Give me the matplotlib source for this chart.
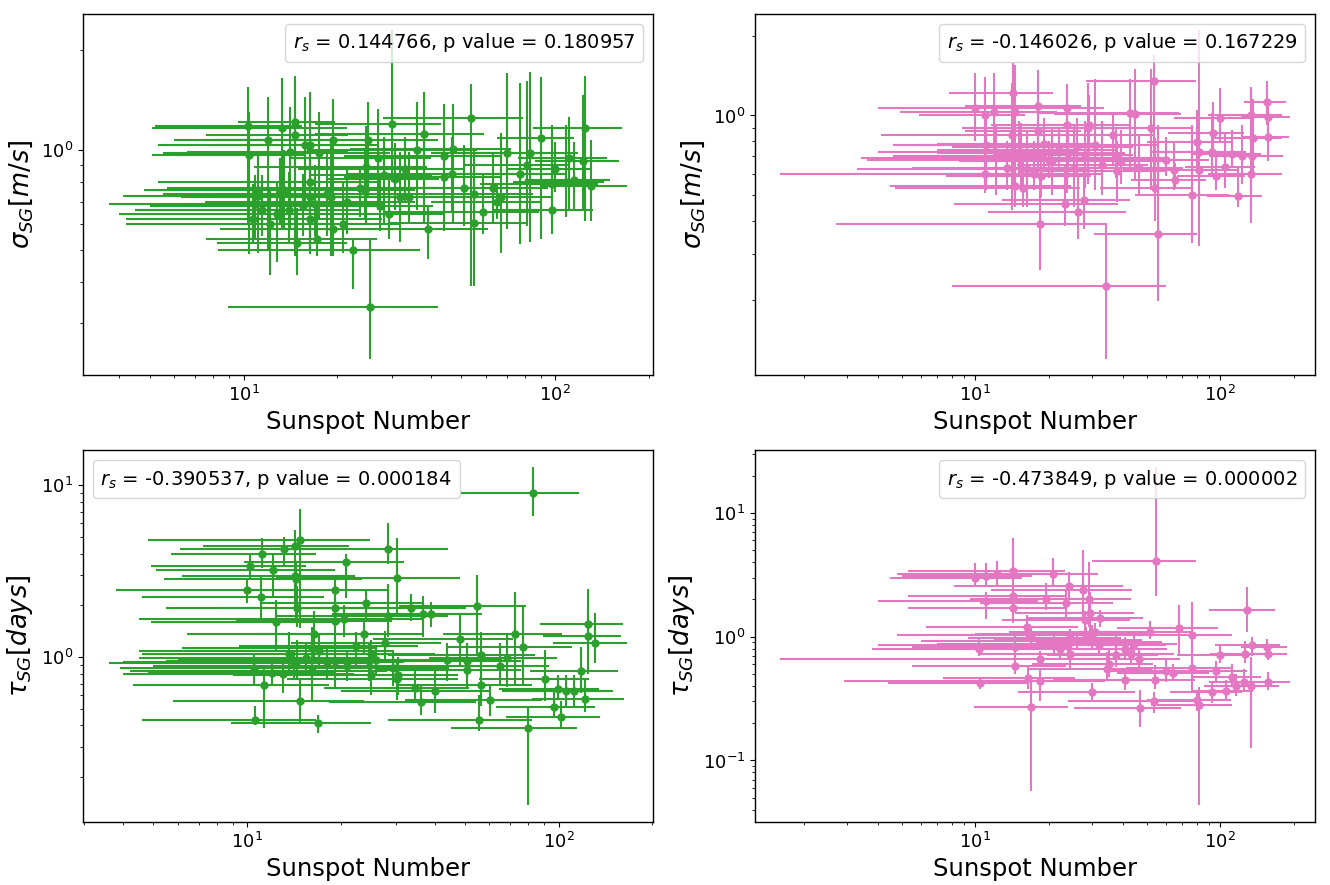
"""
Granulation fit parameters vs. sunspot number.
Left column: green series, right column: pink series.
Top row: sigma_SG, bottom row: tau_SG, both on log-log axes.
"""

import numpy as np
import matplotlib
matplotlib.use("Agg")
import matplotlib.pyplot as plt
from matplotlib.lines import Line2D

# ---------------------------------------------------------------------------
# Data  (ssn, symmetric ssn error, value, lower bound, upper bound)
# ---------------------------------------------------------------------------
# top-left: sigma_SG, green
tl_ssn = [10.3, 13.3, 14.6, 14.6, 30, 53.5, 38, 90, 124.5, 70, 83, 81, 77, 111,
          123, 100, 115, 97.5, 108, 130, 97.5, 67, 63, 58.5, 55, 51, 55, 39, 47,
          44, 44, 46.5, 36, 22.5, 25.5, 14.8, 17.2, 12.2, 10.7, 11.1, 10.4, 14.1,
          16.3, 16.3, 16.3, 19.1, 19.4, 20.8, 27.5, 29.3, 28.3, 30.5, 27, 34,
          31.8, 24.5, 24.8, 65, 10.9, 11.5, 11.1, 13.1, 17.0, 23.7, 16.3, 12.0, 19.4,
          15.5, 14.0, 13.5, 18.5, 21.5, 12.8, 15.8, 17.5, 25, 33]
tl_ssn_err = [5.1, 8.2, 7.0, 5.0, 13, 25.5, 21, 25, 39.5, 30, 35, 30, 32, 35,
              37, 30, 35, 40, 35, 40, 35, 30, 32, 30, 26, 30, 30, 22, 25,
              23, 23, 25, 20, 14.2, 16.6, 6.6, 9.6, 8, 6.5, 7, 5.3, 7.5,
              11, 10, 11.5, 11, 11, 11, 13, 15, 12, 12, 13, 16,
              16, 11, 14, 25, 7.2, 7, 6.3, 7.5, 10.5, 18, 11, 6, 12,
              10.5, 9.5, 8.5, 13, 14, 8.8, 8, 12, 17, 18]
tl_sig = [1.18, 1.17, 1.11, 1.22, 1.20, 1.25, 1.12, 1.09, 1.17, 0.98, 0.98, 0.90, 0.85, 0.95,
          0.93, 0.88, 0.815, 0.79, 0.80, 0.78, 0.66, 0.72, 0.77, 0.65, 0.605, 0.77, 0.74, 0.58, 1.01,
          0.96, 0.83, 0.845, 1.00, 0.50, 0.337, 0.525, 0.54, 0.60, 0.62, 0.725, 0.97, 0.99,
          0.80, 0.72, 0.62, 0.72, 0.58, 0.60, 0.68, 0.64, 0.843, 0.82, 0.945, 0.72,
          0.72, 0.76, 0.89, 0.70, 0.69, 0.66, 0.76, 0.74, 0.69, 0.77, 1.04, 1.07, 1.07,
          0.68, 0.66, 0.76, 0.74, 0.70, 0.64, 1.04, 0.98, 1.07, 0.88]
tl_sig_lo = [0.60, 0.58, 0.48, 0.66, 0.80, 0.39, 0.60, 0.54, 0.61, 0.58, 0.53, 0.59, 0.52, 0.66,
             0.66, 0.75, 0.66, 0.60, 0.63, 0.61, 0.56, 0.49, 0.60, 0.56, 0.39, 0.59, 0.60, 0.47, 0.60,
             0.57, 0.60, 0.65, 0.66, 0.38, 0.235, 0.42, 0.48, 0.42, 0.53, 0.49, 0.485, 0.58,
             0.485, 0.49, 0.49, 0.48, 0.48, 0.49, 0.57, 0.54, 0.60, 0.66, 0.66, 0.60,
             0.53, 0.62, 0.60, 0.62, 0.54, 0.55, 0.60, 0.60, 0.55, 0.63, 0.64, 0.50, 0.60,
             0.55, 0.52, 0.58, 0.55, 0.56, 0.46, 0.70, 0.62, 0.72, 0.70]
tl_sig_hi = [1.55, 1.65, 1.68, 1.64, 2.30, 1.58, 1.50, 1.66, 1.68, 1.71, 1.72, 1.62, 1.60, 1.26,
             1.47, 1.06, 1.06, 1.19, 1.19, 1.07, 0.90, 1.13, 0.98, 0.85, 0.87, 1.04, 1.00, 0.68, 1.38,
             1.38, 1.06, 1.10, 1.40, 0.54, 0.54, 0.67, 0.70, 0.76, 0.79, 0.95, 1.30, 1.35,
             1.15, 1.06, 0.90, 1.08, 0.70, 0.80, 0.84, 0.82, 1.10, 1.05, 1.33, 0.99,
             0.99, 1.01, 1.18, 0.79, 0.84, 0.84, 0.98, 0.95, 0.90, 0.88, 1.50, 1.45, 1.43,
             0.85, 0.86, 1.00, 0.98, 0.87, 0.80, 1.45, 1.30, 1.40, 1.10]

# top-right: sigma_SG, pink
tr_ssn = [53.8, 55.6, 34, 18.3, 26.3, 23.2, 27.8, 14.5, 15.7, 10.9, 54.2, 76.7, 118, 65.1,
          96.4, 134, 81.6, 60, 135, 112, 92.4, 136, 157, 157, 155, 134, 99.6, 93,
          80.4, 52, 45, 42.8, 38, 39.4, 30.7, 28.8, 23.6, 23.6, 18.1, 14.3, 14.5, 14.1,
          11.9, 10.0, 10.9, 11.1, 12.1, 15.4, 16.3, 20.6, 25.2, 32.8, 37.6, 46.6, 65,
          105, 123, 15, 28, 18.1, 18.6, 13.5, 29.2, 36.3, 17.3, 20, 82,
          22, 26, 19, 24]
tr_ssn_err = [25.6, 25, 26, 15.6, 15, 15, 15, 10, 11, 7, 22, 32, 30, 22,
              30, 45, 35, 30, 45, 35, 35, 42, 33, 35, 30, 45, 35, 32,
              30, 24, 24, 25, 22, 20, 25, 20, 10, 12, 9, 6.5, 7, 10,
              7, 6, 5, 6.5, 7.5, 12, 13, 12, 15, 18, 22, 24, 25,
              33, 30, 11, 16, 9, 11, 8, 14, 18, 15.7, 16.4, 30,
              15, 18, 12, 17]
tr_sig = [1.35, 0.356, 0.225, 0.389, 0.432, 0.46, 0.477, 0.54, 0.533, 0.60, 0.533, 0.50, 0.495, 0.57,
          0.59, 0.60, 0.62, 0.68, 0.70, 0.714, 0.73, 0.82, 0.83, 0.99, 1.12, 1.00, 0.98, 0.86,
          0.79, 0.90, 1.01, 1.02, 0.615, 0.67, 0.77, 0.90, 1.07, 0.92, 1.09, 1.22, 1.03, 0.84,
          1.035, 1.07, 1.00, 0.77, 0.70, 0.69, 0.625, 0.67, 0.63, 0.65, 0.69, 0.63, 0.62,
          0.64, 0.70, 0.73, 0.71, 0.87, 0.59, 0.63, 0.92, 0.84, 0.60, 0.68, 0.73,
          0.74, 0.76, 0.78, 0.72]
tr_sig_lo = [0.52, 0.198, 0.12, 0.26, 0.34, 0.38, 0.37, 0.45, 0.45, 0.51, 0.40, 0.33, 0.45, 0.53,
             0.52, 0.39, 0.52, 0.59, 0.60, 0.63, 0.60, 0.60, 0.67, 0.76, 0.92, 0.76, 0.79, 0.70,
             0.64, 0.52, 0.57, 0.64, 0.47, 0.55, 0.52, 0.55, 0.55, 0.51, 0.69, 0.52, 0.49, 0.44,
             0.69, 0.80, 0.85, 0.52, 0.50, 0.52, 0.45, 0.50, 0.45, 0.50, 0.58, 0.50, 0.52,
             0.53, 0.55, 0.59, 0.53, 0.60, 0.49, 0.52, 0.70, 0.65, 0.52, 0.58, 0.32,
             0.62, 0.60, 0.62, 0.58]
tr_sig_hi = [1.70, 0.918, 0.39, 0.597, 0.60, 0.65, 0.63, 0.73, 0.67, 0.87, 0.82, 0.92, 0.64, 0.66,
             0.73, 1.28, 0.80, 0.83, 0.92, 0.88, 1.02, 1.15, 1.10, 1.15, 1.35, 1.25, 1.27, 1.12,
             1.05, 1.50, 1.50, 1.38, 0.80, 0.88, 1.37, 1.33, 1.31, 1.03, 1.49, 1.58, 1.55, 1.33,
             1.45, 1.45, 1.40, 1.00, 0.92, 0.94, 0.87, 0.90, 0.92, 0.95, 0.90, 0.85, 0.80,
             0.85, 0.92, 0.95, 0.95, 1.33, 0.70, 0.80, 1.20, 1.00, 0.80, 0.80, 2.10,
             0.90, 0.98, 0.98, 0.88]

# bottom-left: tau_SG, green
bl_ssn = [82.7, 80, 14.8, 11.2, 13.1, 14.2, 28.3, 30.4, 20.8, 10.2, 12.1, 14.2, 14.4, 19.2,
          11.1, 14.5, 19.2, 24, 33.6, 36.8, 38.9, 54.8, 28.3, 12.4, 16.4, 19.2, 23.7, 27.8,
          48.4, 72.5, 77.1, 124, 124, 131, 68.5, 56.3, 43.7, 51, 65, 90.5, 118, 99.6,
          106, 112, 122, 97, 102, 55.4, 60.2, 56.3, 40, 36.3, 34.6, 30.4, 25, 24.7,
          22.4, 19.2, 16.2, 16.2, 14.5, 13.6, 10.5, 11.3, 14.8, 10.6, 16.9, 30.6, 51,
          25, 29.4, 14.1, 10, 20.5, 12,
          15.5, 18, 21, 13, 26, 17]
bl_ssn_err = [34, 35, 10, 5.5, 7, 7, 16, 18, 11, 5.3, 7, 8, 9, 9,
              6.5, 9, 11, 13, 17, 18, 18, 24, 16, 7.5, 10, 10, 13, 14,
              23, 30, 33, 37, 35, 35, 30, 28, 22, 25, 28, 35, 37, 35,
              40, 38, 40, 34, 34, 27, 28, 26, 20, 18, 17, 17, 16, 15,
              13, 13, 12, 10, 9, 9, 6.6, 7, 9, 6, 8, 17, 25,
              15, 15, 10.5, 6.2, 16, 7.2,
              11, 14, 16, 9, 20, 12.5]
bl_tau = [9.06, 0.386, 4.83, 4.0, 4.25, 4.45, 4.25, 2.9, 3.56, 3.4, 3.2, 2.98, 2.85, 2.45,
          2.22, 1.94, 1.94, 2.05, 1.94, 1.78, 1.78, 1.99, 1.74, 1.59, 1.36, 1.62, 1.36, 1.21,
          1.27, 1.36, 1.14, 1.55, 1.33, 1.2, 0.98, 1.03, 0.956, 0.84, 0.88, 0.74, 0.83, 0.65,
          0.633, 0.633, 0.565, 0.513, 0.445, 0.43, 0.558, 0.69, 0.633, 0.548, 0.662, 0.74, 0.79, 0.95,
          1.16, 0.95, 0.83, 1.13, 0.95, 1.04, 0.866, 0.686, 0.553, 0.43, 0.41, 0.79, 0.95,
          1.04, 0.866, 0.92, 2.45, 1.66, 0.81,
          0.98, 0.93, 0.89, 0.80, 0.96, 1.08]
bl_tau_lo = [6.6, 0.137, 1.48, 3.3, 3.4, 1.9, 3.5, 1.75, 2.2, 2.9, 2.2, 2.1, 1.6, 1.5,
             1.6, 1.5, 1.4, 1.6, 1.62, 1.30, 1.5, 1.03, 1.3, 1.1, 1.0, 1.2, 1.06, 0.95,
             0.9, 0.7, 0.68, 1.07, 0.8, 0.92, 0.67, 0.75, 0.72, 0.66, 0.69, 0.55, 0.62, 0.56,
             0.52, 0.52, 0.48, 0.45, 0.39, 0.37, 0.45, 0.52, 0.47, 0.46, 0.54, 0.56, 0.60, 0.72,
             0.85, 0.66, 0.55, 0.75, 0.75, 0.78, 0.70, 0.386, 0.42, 0.40, 0.36, 0.60, 0.75,
             0.75, 0.68, 0.75, 2.05, 1.3, 0.68,
             0.80, 0.75, 0.72, 0.62, 0.78, 0.85]
bl_tau_hi = [12.8, 0.517, 7.3, 4.9, 5.0, 5.5, 6.0, 4.9, 4.0, 4.0, 4.0, 3.9, 3.6, 2.9,
             3.0, 2.6, 2.7, 2.5, 2.33, 2.25, 2.1, 3.0, 2.65, 2.15, 1.86, 2.2, 1.65, 1.42,
             1.8, 2.4, 2.0, 2.48, 2.0, 1.8, 1.36, 1.4, 1.2, 1.2, 1.2, 1.1, 1.15, 0.78,
             0.78, 0.78, 0.75, 0.63, 0.55, 0.60, 0.70, 0.95, 0.85, 0.68, 0.86, 0.95, 1.05, 1.2,
             1.4, 1.25, 1.1, 1.5, 1.25, 1.4, 1.05, 0.86, 0.74, 0.52, 0.46, 1.0, 1.2,
             1.25, 1.1, 1.1, 2.9, 2.0, 1.0,
             1.2, 1.15, 1.08, 1.0, 1.18, 1.35]

# bottom-right: tau_SG, pink
br_ssn = [54.8, 16.9, 82.1, 129, 133, 47.2, 53.8, 80.2, 92.2, 106, 116, 157, 125, 112,
          96.4, 76.3, 68, 76.3, 60, 54, 64, 40.7, 29.9, 34.6, 46.6, 43, 35.1, 99.6,
          126, 135, 157, 155, 27.6, 24.2, 20.8, 14.3, 12.3, 11.0, 10.0, 14.3, 14.3, 11.0,
          19.5, 23.4, 29.5, 27.9, 16.3, 24.0, 16.9, 14.5, 14.5, 10.3, 10.4, 16.4, 18.4,
          24.3, 30.7, 37.6, 40.7, 37.6, 44.4, 51.5, 29.9, 24.3, 22.1, 32.3, 29.2, 18.3, 32, 28.4,
          26, 30, 21]
br_ssn_err = [25, 7, 30, 39, 40, 22, 30, 30, 30, 30, 30, 35, 35, 35,
              32, 35, 30, 35, 25, 25, 26, 20, 15, 18, 22, 22, 18, 33,
              35, 40, 30, 33, 16, 16, 11, 9, 7.5, 6, 5.5, 9, 9, 7,
              10, 13, 15, 15, 10, 15, 10, 9, 9, 6.5, 6, 9, 15.5,
              14, 17, 20, 20, 18, 22, 25, 18, 15, 13, 16, 14, 16.7, 28, 23.6,
              20, 20, 14]
br_tau = [4.1, 0.268, 0.28, 1.63, 0.403, 0.263, 0.30, 0.31, 0.36, 0.367, 0.40, 0.43, 0.43, 0.47,
          0.53, 0.56, 1.17, 1.04, 0.53, 0.443, 0.51, 0.443, 0.356, 0.55, 0.666, 0.73, 0.606, 0.71,
          0.73, 0.855, 0.73, 0.83, 2.4, 2.55, 3.19, 3.4, 3.19, 3.1, 2.99, 2.12, 1.70, 1.93,
          2.0, 1.87, 1.55, 1.37, 1.2, 0.855, 1.03, 0.83, 0.58, 0.80, 0.42, 0.466, 0.435,
          0.72, 1.1, 0.91, 0.80, 0.71, 0.88, 1.1, 0.94, 0.97, 0.80, 1.41, 2.0, 0.666, 0.855, 1.03,
          0.92, 1.05, 0.88]
br_tau_lo = [2.12, 0.057, 0.0436, 1.1, 0.127, 0.185, 0.24, 0.25, 0.29, 0.30, 0.33, 0.37, 0.36, 0.39,
             0.42, 0.37, 0.70, 0.45, 0.43, 0.38, 0.44, 0.37, 0.31, 0.45, 0.55, 0.60, 0.47, 0.61,
             0.61, 0.70, 0.65, 0.72, 1.3, 2.0, 2.6, 2.3, 2.5, 2.5, 2.5, 1.6, 1.3, 1.4,
             1.65, 1.4, 0.9, 1.1, 0.9, 0.70, 0.88, 0.7, 0.50, 0.7, 0.38, 0.38, 0.30,
             0.55, 0.85, 0.75, 0.65, 0.57, 0.75, 0.95, 0.78, 0.80, 0.65, 1.2, 1.2, 0.58, 0.70, 0.88,
             0.78, 0.88, 0.72]
br_tau_hi = [23.5, 0.443, 0.39, 2.5, 0.69, 0.37, 0.36, 0.37, 0.43, 0.45, 0.50, 0.52, 0.55, 0.60,
             0.63, 1.45, 1.8, 1.9, 0.67, 0.59, 0.60, 0.55, 0.42, 0.75, 0.80, 0.90, 0.78, 0.84,
             0.92, 1.0, 0.86, 0.95, 5.0, 3.3, 4.3, 6.3, 4.1, 3.9, 3.9, 2.6, 2.4, 2.3,
             2.7, 2.4, 2.3, 1.6, 1.5, 1.1, 1.2, 1.05, 0.71, 0.95, 0.47, 0.58, 0.56,
             0.93, 1.3, 1.1, 1.0, 0.86, 1.05, 1.35, 1.12, 1.15, 0.96, 1.65, 4.0, 0.76, 1.0, 1.2,
             1.1, 1.25, 1.05]

# Spearman results shown in each panel
STATS = {
    "tl": (0.144766, 0.180957),
    "tr": (-0.146026, 0.167229),
    "bl": (-0.390537, 0.000184),
    "br": (-0.473849, 0.000002),
}

# ---------------------------------------------------------------------------
# Style
# ---------------------------------------------------------------------------
GREEN = "#2ca02c"
PINK = "#e377c2"
LABEL_SIZE = 17.5
TICK_SIZE = 13
STAT_SIZE = 14

plt.rcParams.update({
    "font.family": "DejaVu Sans",
    "axes.linewidth": 1.0,
})


def draw_panel(ax, ssn, ssn_err, val, lo, hi, color):
    val = np.asarray(val)
    yerr = [val - np.asarray(lo), np.asarray(hi) - val]
    ax.errorbar(ssn, val, xerr=ssn_err, yerr=yerr, fmt="o", color=color,
                ecolor=color, ms=5, elinewidth=1.5, capsize=0)
    ax.set_xscale("log")
    ax.set_yscale("log")
    ax.set_xlabel("Sunspot Number", fontsize=LABEL_SIZE)
    ax.tick_params(axis="both", which="major", labelsize=TICK_SIZE)


def stat_box(ax, key, loc):
    r, p = STATS[key]
    text = rf"$r_s$ = {r:.6f}, p value = {p:.6f}"
    blank = Line2D([], [], ls="none")
    ax.legend([blank], [text], loc=loc, fontsize=STAT_SIZE,
              handlelength=0, handletextpad=0)


# ---------------------------------------------------------------------------
# Figure
# ---------------------------------------------------------------------------
fig = plt.figure(figsize=(13.3, 8.85), dpi=100, facecolor="white")
ax_tl = fig.add_axes([0.0624, 0.5763, 0.4286, 0.4079])
ax_tr = fig.add_axes([0.5677, 0.5763, 0.4211, 0.4079])
ax_bl = fig.add_axes([0.0624, 0.0712, 0.4286, 0.4203])
ax_br = fig.add_axes([0.5677, 0.0712, 0.4211, 0.4203])

draw_panel(ax_tl, tl_ssn, tl_ssn_err, tl_sig, tl_sig_lo, tl_sig_hi, GREEN)
draw_panel(ax_tr, tr_ssn, tr_ssn_err, tr_sig, tr_sig_lo, tr_sig_hi, PINK)
draw_panel(ax_bl, bl_ssn, bl_ssn_err, bl_tau, bl_tau_lo, bl_tau_hi, GREEN)
draw_panel(ax_br, br_ssn, br_ssn_err, br_tau, br_tau_lo, br_tau_hi, PINK)

for ax in (ax_tl, ax_tr):
    ax.set_ylabel(r"$\sigma_{SG} [m/s]$", fontsize=LABEL_SIZE + 1)
for ax in (ax_bl, ax_br):
    ax.set_ylabel(r"$\tau_{SG} [days]$", fontsize=LABEL_SIZE + 1)

stat_box(ax_tl, "tl", "upper right")
stat_box(ax_tr, "tr", "upper right")
stat_box(ax_bl, "bl", "upper left")
stat_box(ax_br, "br", "upper right")

fig.savefig("out.png", dpi=100, facecolor="white")
